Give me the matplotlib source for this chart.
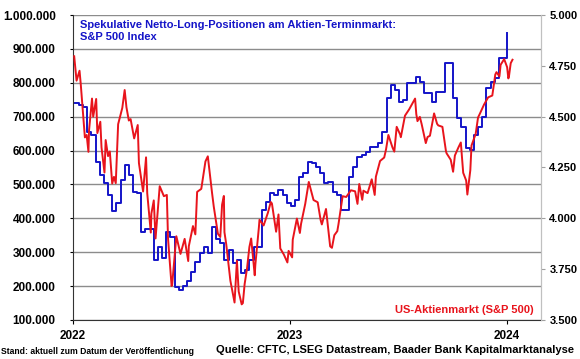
import matplotlib
matplotlib.use("Agg")
import matplotlib.pyplot as plt
import matplotlib.dates as mdates
import matplotlib.ticker as mticker
import pandas as pd

plt.rcParams["font.family"] = ["Liberation Sans", "DejaVu Sans"]
plt.rcParams["font.weight"] = "bold"

# Netto-Long-Positionen (weekly COT, Tuesdays from 2022-01-04), in thousand
pos_start = "2022-01-04"
positions = [
    741, 735, 729, 655, 646, 566, 528, 504, 469, 422,
    446, 513, 557, 528, 478, 475, 360, 369, 369, 277,
    316, 283, 360, 345, 198, 189, 201, 215, 242, 271,
    298, 316, 298, 375, 339, 327, 277, 307, 268, 277,
    239, 248, 277, 316, 316, 425, 448, 475, 469, 484,
    469, 446, 437, 454, 522, 534, 566, 563, 552, 534,
    504, 507, 478, 469, 425, 425, 522, 552, 581, 587,
    596, 611, 611, 622, 655, 755, 794, 779, 743, 749,
    800, 800, 817, 802, 770, 770, 743, 773, 773, 858,
    858, 755, 696, 670, 608, 602, 646, 670, 699, 785,
    802, 814, 873, 873, 947,
]
positions = [p * 1000 for p in positions]

# S&P 500
spx_dates = [
    "2022-01-03", "2022-01-07", "2022-01-12", "2022-01-14", "2022-01-21", "2022-01-24",
    "2022-01-27", "2022-01-28", "2022-02-02", "2022-02-04", "2022-02-09", "2022-02-11",
    "2022-02-16", "2022-02-18", "2022-02-23", "2022-02-25", "2022-03-01", "2022-03-04",
    "2022-03-08", "2022-03-11", "2022-03-14", "2022-03-18", "2022-03-25", "2022-03-29",
    "2022-04-01", "2022-04-05", "2022-04-08", "2022-04-14", "2022-04-20", "2022-04-22",
    "2022-04-29", "2022-05-04", "2022-05-06", "2022-05-12", "2022-05-13", "2022-05-17",
    "2022-05-20", "2022-05-27", "2022-06-03", "2022-06-08", "2022-06-10", "2022-06-16",
    "2022-06-17", "2022-06-24", "2022-07-01", "2022-07-08", "2022-07-14", "2022-07-15",
    "2022-07-22", "2022-07-26", "2022-07-29", "2022-08-05", "2022-08-12", "2022-08-16",
    "2022-08-19", "2022-08-23", "2022-08-26", "2022-09-02", "2022-09-06", "2022-09-09",
    "2022-09-12", "2022-09-13", "2022-09-16", "2022-09-23", "2022-09-30", "2022-10-04",
    "2022-10-07", "2022-10-12", "2022-10-14", "2022-10-17", "2022-10-21", "2022-10-25",
    "2022-10-28", "2022-11-03", "2022-11-04", "2022-11-10", "2022-11-11", "2022-11-18",
    "2022-11-25", "2022-11-30", "2022-12-01", "2022-12-02", "2022-12-09", "2022-12-13",
    "2022-12-16", "2022-12-22", "2022-12-28", "2022-12-30", "2023-01-05", "2023-01-06",
    "2023-01-13", "2023-01-18", "2023-01-20", "2023-01-27", "2023-02-02", "2023-02-10",
    "2023-02-17", "2023-02-22", "2023-02-24", "2023-03-03", "2023-03-10", "2023-03-13",
    "2023-03-17", "2023-03-22", "2023-03-24", "2023-03-31", "2023-04-06", "2023-04-14",
    "2023-04-21", "2023-04-25", "2023-04-28", "2023-05-03", "2023-05-05", "2023-05-12",
    "2023-05-19", "2023-05-24", "2023-05-26", "2023-06-02", "2023-06-09", "2023-06-12",
    "2023-06-16", "2023-06-23", "2023-06-26", "2023-06-30", "2023-07-06", "2023-07-07",
    "2023-07-14", "2023-07-21", "2023-07-31", "2023-08-02", "2023-08-04", "2023-08-08",
    "2023-08-11", "2023-08-18", "2023-08-21", "2023-08-25", "2023-09-01", "2023-09-06",
    "2023-09-08", "2023-09-15", "2023-09-21", "2023-09-22", "2023-09-29", "2023-10-03",
    "2023-10-06", "2023-10-12", "2023-10-16", "2023-10-20", "2023-10-25", "2023-10-27",
    "2023-11-01", "2023-11-03", "2023-11-10", "2023-11-14", "2023-11-17", "2023-11-24",
    "2023-12-01", "2023-12-08", "2023-12-13", "2023-12-15", "2023-12-20", "2023-12-22",
    "2023-12-28", "2024-01-02", "2024-01-04", "2024-01-05", "2024-01-08", "2024-01-11",
]
spx = [
    4797, 4677, 4726, 4662, 4398, 4410,
    4327, 4432, 4589, 4500, 4587, 4419,
    4475, 4349, 4225, 4385, 4306, 4329,
    4171, 4204, 4173, 4463, 4543, 4631,
    4546, 4481, 4488, 4393, 4459, 4272,
    4132, 4300, 4123, 3930, 4024, 4088,
    3901, 4158, 4109, 4115, 3901, 3667,
    3675, 3912, 3825, 3899, 3790, 3863,
    3962, 3921, 4130, 4145, 4280, 4305,
    4228, 4128, 4058, 3924, 3908, 4067,
    4110, 3932, 3873, 3693, 3586, 3791,
    3640, 3577, 3583, 3677, 3753, 3859,
    3901, 3720, 3771, 3956, 3993, 3965,
    4026, 4080, 4077, 4072, 3934, 4019,
    3852, 3822, 3783, 3840, 3808, 3895,
    3999, 3928, 3973, 4071, 4179, 4090,
    4079, 3991, 3970, 4046, 3862, 3855,
    3917, 3937, 3971, 4109, 4105, 4138,
    4133, 4071, 4169, 4091, 4136, 4124,
    4192, 4115, 4205, 4282, 4299, 4338,
    4410, 4348, 4328, 4450, 4411, 4399,
    4505, 4536, 4589, 4513, 4478, 4499,
    4464, 4370, 4400, 4406, 4516, 4465,
    4457, 4450, 4330, 4320, 4288, 4229,
    4309, 4349, 4373, 4224, 4186, 4117,
    4237, 4358, 4415, 4496, 4514, 4559,
    4595, 4604, 4707, 4719, 4698, 4755,
    4783, 4743, 4688, 4697, 4763, 4780,
]

pos_dates = pd.date_range(pos_start, periods=len(positions), freq="7D")
spx_dt = pd.to_datetime(spx_dates)

BLUE = "#1414c8"
RED = "#e8141c"
GRID = "#8c8c8c"

fig = plt.figure(figsize=(5.8, 3.59), dpi=100)
ax = fig.add_axes([73 / 580, 39 / 359, 468 / 580, 305 / 359])
ax2 = ax.twinx()

ax.plot(pos_dates, positions, color=BLUE, lw=1.4, drawstyle="steps-post")
ax2.plot(spx_dt, spx, color=RED, lw=1.4)

ax.set_xlim(pd.Timestamp("2022-01-01"), pd.Timestamp("2024-02-28"))
ax.set_ylim(100000, 1000000)
ax2.set_ylim(3500, 5000)

ax.yaxis.set_major_locator(mticker.MultipleLocator(100000))
ax2.yaxis.set_major_locator(mticker.MultipleLocator(250))
dotfmt = mticker.FuncFormatter(lambda v, p: f"{v:,.0f}".replace(",", "."))
ax.yaxis.set_major_formatter(dotfmt)
ax2.yaxis.set_major_formatter(dotfmt)

ax.xaxis.set_major_locator(mdates.YearLocator())
ax.xaxis.set_major_formatter(mdates.DateFormatter("%Y"))

ax.grid(axis="y", color=GRID, lw=1.0)
ax.set_axisbelow(True)

for a in (ax, ax2):
    a.spines["top"].set_visible(False)
ax.tick_params(axis="y", labelsize=8.5, length=2.5, width=0.8, pad=10)
ax.tick_params(axis="x", labelsize=8.5, length=3, width=0.8, pad=4)
ax2.tick_params(axis="y", labelsize=8, length=3, width=0.8, pad=3,
                color="#a0a0a0", labelcolor="black")
ax.spines["left"].set_color("#333333")
ax.spines["bottom"].set_color("#333333")
ax.spines["right"].set_color("#c0c0c0")
ax2.spines["left"].set_visible(False)
ax2.spines["bottom"].set_visible(False)
ax2.spines["right"].set_color("#c0c0c0")
for lab in ax.get_xticklabels() + ax.get_yticklabels() + ax2.get_yticklabels():
    lab.set_fontweight("bold")

ax.text(0.015, 0.985, "Spekulative Netto-Long-Positionen am Aktien-Terminmarkt:\nS&P 500 Index",
        transform=ax.transAxes, color=BLUE, fontsize=8, fontweight="bold",
        va="top", ha="left", linespacing=1.25)
ax.text(0.985, 0.015, "US-Aktienmarkt (S&P 500)", transform=ax.transAxes,
        color=RED, fontsize=8, fontweight="bold", ha="right", va="bottom")

fig.text(0.002, 0.008, "Stand: aktuell zum Datum der Veröffentlichung",
         fontsize=6.2, fontweight="bold", ha="left", va="bottom")
fig.text(0.99, 0.012, "Quelle: CFTC, LSEG Datastream, Baader Bank Kapitalmarktanalyse",
         fontsize=8, fontweight="bold", ha="right", va="bottom")

fig.savefig("out.png", dpi=100)
